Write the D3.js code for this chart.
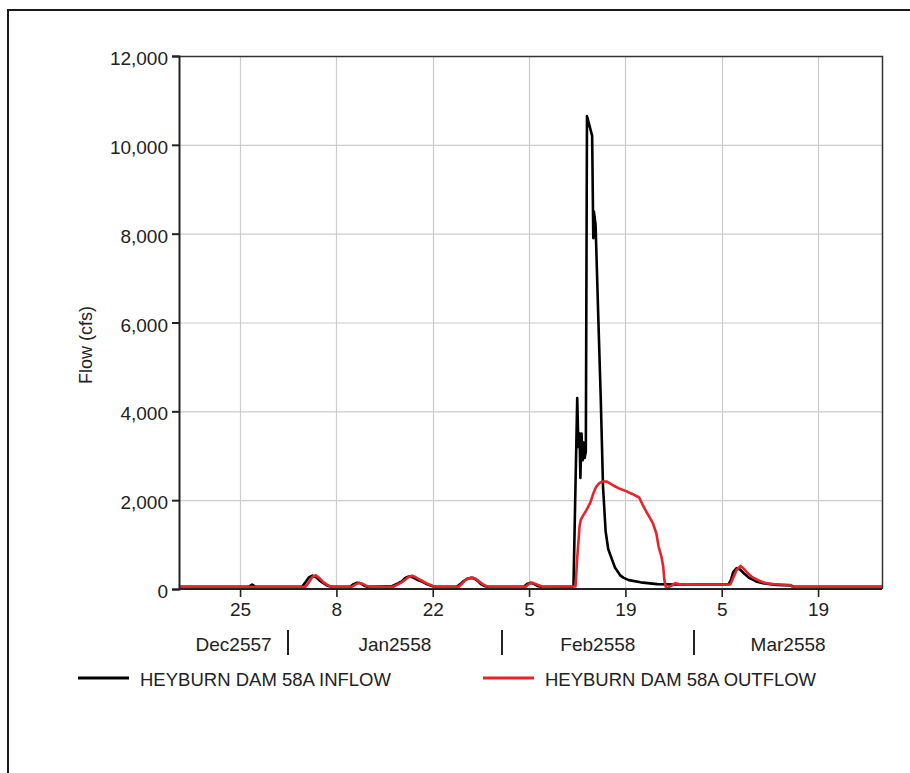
<!DOCTYPE html>
<html>
<head>
<meta charset="utf-8">
<script src="https://cdn.jsdelivr.net/npm/d3@7"></script>
<style>
  html, body { margin: 0; padding: 0; background: #fff; }
  svg { display: block; font-family: "Liberation Sans", Arial, sans-serif; }
</style>
</head>
<body>
<svg id="chart" width="910" height="773"></svg>
<script>
// Reservoir hydrograph: Heyburn Dam 58A inflow vs. outflow (cfs)
const inflowTimes = [
  "2014-12-15T00:00","2014-12-26T06:00","2014-12-26T18:00","2014-12-27T06:00",
  "2015-01-03T00:00","2015-01-03T12:00","2015-01-04T00:00","2015-01-04T12:00","2015-01-05T00:00","2015-01-05T12:00","2015-01-06T00:00","2015-01-06T12:00","2015-01-07T00:00","2015-01-07T12:00",
  "2015-01-10T00:00","2015-01-10T12:00","2015-01-11T00:00","2015-01-11T12:00","2015-01-12T00:00","2015-01-12T12:00",
  "2015-01-16T00:00","2015-01-17T00:00","2015-01-17T12:00","2015-01-18T00:00","2015-01-18T12:00","2015-01-19T00:00","2015-01-19T12:00","2015-01-20T00:00","2015-01-20T12:00","2015-01-21T00:00","2015-01-21T12:00","2015-01-22T00:00","2015-01-22T12:00",
  "2015-01-25T12:00","2015-01-26T00:00","2015-01-26T12:00","2015-01-27T00:00","2015-01-27T12:00","2015-01-28T00:00","2015-01-28T12:00","2015-01-29T00:00","2015-01-29T12:00","2015-01-30T00:00",
  "2015-02-04T06:00","2015-02-04T18:00","2015-02-05T06:00","2015-02-05T18:00","2015-02-06T06:00","2015-02-06T18:00",
  "2015-02-11T06:00","2015-02-11T11:00","2015-02-12T00:00","2015-02-12T04:00","2015-02-12T08:00","2015-02-12T11:00","2015-02-12T15:00","2015-02-12T19:00","2015-02-12T22:00","2015-02-13T02:00","2015-02-13T06:00",
  "2015-02-13T10:00","2015-02-13T18:00","2015-02-14T04:00","2015-02-14T08:00","2015-02-14T10:00","2015-02-14T16:00","2015-02-15T02:00","2015-02-15T10:00","2015-02-15T18:00",
  "2015-02-16T03:00","2015-02-16T12:00","2015-02-17T02:00","2015-02-17T12:00","2015-02-18T07:00","2015-02-18T18:00","2015-02-19T12:00","2015-02-21T05:00","2015-02-23T15:00","2015-02-26T00:00",
  "2015-03-05T12:00","2015-03-06T00:00","2015-03-06T08:00","2015-03-06T16:00","2015-03-07T04:00","2015-03-07T16:00","2015-03-08T06:00","2015-03-09T00:00","2015-03-10T00:00","2015-03-11T00:00","2015-03-12T00:00","2015-03-13T00:00","2015-03-15T00:00","2015-03-15T12:00","2015-03-29T00:00"
];
const inflowValues = [
  50,50,100,50,
  50,150,260,300,270,200,140,90,60,50,
  50,110,140,130,80,50,
  60,130,170,250,280,270,230,190,160,120,90,60,50,
  50,110,180,230,250,240,190,110,70,50,
  50,120,140,110,70,50,
  50,80,4300,3200,3500,2500,3500,2900,3300,2950,3100,
  10650,10450,10200,7900,8500,8200,6000,4300,2300,
  1300,900,650,480,300,250,200,150,110,100,
  100,110,200,380,470,440,350,250,170,130,110,90,80,50,50
];

const outflowTimes = [
  "2014-12-15T00:00",
  "2015-01-03T12:00","2015-01-04T00:00","2015-01-04T12:00","2015-01-05T00:00","2015-01-05T12:00","2015-01-06T00:00","2015-01-06T12:00","2015-01-07T00:00","2015-01-07T12:00",
  "2015-01-10T06:00","2015-01-10T18:00","2015-01-11T06:00","2015-01-11T18:00","2015-01-12T06:00","2015-01-12T18:00",
  "2015-01-16T06:00","2015-01-17T00:00","2015-01-17T12:00","2015-01-18T00:00","2015-01-18T12:00","2015-01-19T00:00","2015-01-19T12:00","2015-01-20T00:00","2015-01-20T12:00","2015-01-21T00:00","2015-01-21T12:00","2015-01-22T00:00","2015-01-22T12:00",
  "2015-01-25T18:00","2015-01-26T06:00","2015-01-26T18:00","2015-01-27T06:00","2015-01-27T18:00","2015-01-28T06:00","2015-01-28T18:00","2015-01-29T06:00","2015-01-29T18:00","2015-01-30T06:00",
  "2015-02-04T12:00","2015-02-05T00:00","2015-02-05T12:00","2015-02-06T00:00","2015-02-06T12:00","2015-02-07T00:00",
  "2015-02-11T18:00","2015-02-12T00:00","2015-02-12T08:00","2015-02-12T12:00","2015-02-12T20:00","2015-02-13T06:00","2015-02-13T14:00","2015-02-13T22:00","2015-02-14T08:00","2015-02-14T18:00",
  "2015-02-15T06:00","2015-02-15T18:00","2015-02-16T06:00","2015-02-16T18:00","2015-02-17T06:00","2015-02-18T00:00","2015-02-19T00:00","2015-02-20T00:00","2015-02-21T00:00","2015-02-21T12:00",
  "2015-02-22T00:00","2015-02-22T12:00","2015-02-23T00:00","2015-02-23T12:00","2015-02-23T20:00","2015-02-24T06:00","2015-02-24T12:00","2015-02-24T16:00","2015-02-24T22:00","2015-02-25T06:00",
  "2015-02-25T12:00","2015-02-25T20:00","2015-02-26T06:00","2015-02-26T18:00","2015-03-01T00:00",
  "2015-03-05T12:00","2015-03-06T06:00","2015-03-06T16:00","2015-03-07T04:00","2015-03-07T18:00","2015-03-08T06:00","2015-03-08T18:00","2015-03-09T12:00","2015-03-10T12:00","2015-03-11T12:00","2015-03-12T12:00","2015-03-15T00:00","2015-03-15T06:00","2015-03-29T00:00"
];
const outflowValues = [
  50,
  50,150,270,310,250,170,110,70,50,
  50,100,140,120,80,50,
  50,110,150,210,270,300,270,220,180,140,100,70,50,
  50,120,200,240,260,230,170,110,70,50,
  50,120,140,110,80,50,
  60,700,1400,1550,1650,1750,1850,1950,2150,2300,
  2390,2420,2420,2380,2330,2270,2210,2140,2060,1900,
  1750,1620,1480,1250,950,720,500,200,20,30,
  60,90,130,110,100,
  100,100,250,430,520,450,360,260,180,130,110,90,50,50
];

const seriesNames = ["HEYBURN DAM 58A INFLOW", "HEYBURN DAM 58A OUTFLOW"];
const seriesColors = ["#000000", "#e8232b"];

const yTicks = [0, 2000, 4000, 6000, 8000, 10000, 12000];
const xTickDates = ["2014-12-25","2015-01-08","2015-01-22","2015-02-05","2015-02-19","2015-03-05","2015-03-19"];
const monthStarts = ["2014-12-01","2015-01-01","2015-02-01","2015-03-01","2015-04-01"];
const monthLabels = ["Dec2557","Jan2558","Feb2558","Mar2558"];
const yLabel = "Flow (cfs)";

const parseT = d3.utcParse("%Y-%m-%dT%H:%M");
const parseD = d3.utcParse("%Y-%m-%d");

const inflow = inflowTimes.map((t, i) => ({ t: parseT(t), v: inflowValues[i] }));
const outflow = outflowTimes.map((t, i) => ({ t: parseT(t), v: outflowValues[i] }));

const plot = { left: 179, right: 882, top: 56, bottom: 589 };

const x = d3.scaleUtc()
  .domain([parseT("2014-12-16T03:00"), parseT("2015-03-28T07:00")])
  .range([plot.left, plot.right]);
const y = d3.scaleLinear().domain([0, 12000]).range([plot.bottom, plot.top]);

const svg = d3.select("#chart");

// outer frame
svg.append("rect")
  .attr("x", 8).attr("y", 10).attr("width", 920).attr("height", 800)
  .attr("fill", "none").attr("stroke", "#1a1a1a").attr("stroke-width", 2);

svg.append("defs").append("clipPath").attr("id", "plotclip")
  .append("rect")
  .attr("x", plot.left).attr("y", plot.top - 5)
  .attr("width", plot.right - plot.left).attr("height", plot.bottom - plot.top + 5);

// grid
const grid = svg.append("g");
grid.selectAll("line.h").data(yTicks.filter(d => d > 0 && d < 12000)).join("line")
  .attr("x1", plot.left).attr("x2", plot.right)
  .attr("y1", d => y(d) + 0.5).attr("y2", d => y(d) + 0.5)
  .attr("stroke", "#cccccc").attr("stroke-width", 1.2);
grid.selectAll("line.v").data(xTickDates.map(parseD)).join("line")
  .attr("x1", d => Math.round(x(d)) + 0.5).attr("x2", d => Math.round(x(d)) + 0.5)
  .attr("y1", plot.top).attr("y2", plot.bottom)
  .attr("stroke", "#cccccc").attr("stroke-width", 1.2);

// series
const line = d3.line().x(d => x(d.t)).y(d => y(d.v));
const lines = svg.append("g").attr("clip-path", "url(#plotclip)");
[inflow, outflow].forEach((data, i) => {
  lines.append("path").datum(data)
    .attr("d", line)
    .attr("fill", "none")
    .attr("stroke", seriesColors[i])
    .attr("stroke-width", 2.6)
    .attr("stroke-linejoin", "round")
    .attr("stroke-linecap", "round");
});

// plot frame (top and right edges)
svg.append("path")
  .attr("d", `M${plot.left},${plot.top + 0.5}H${plot.right + 0.5}V${plot.bottom}`)
  .attr("fill", "none").attr("stroke", "#333").attr("stroke-width", 1.5);

// y axis
const yAxis = d3.axisLeft(y).tickValues(yTicks).tickSize(7).tickPadding(4)
  .tickFormat(d3.format(","));
const gy = svg.append("g").attr("transform", `translate(${plot.left},0)`).call(yAxis);
gy.select(".domain").attr("stroke", "#222").attr("stroke-width", 2);
gy.selectAll(".tick line").attr("stroke", "#222").attr("stroke-width", 2);
gy.selectAll(".tick text").attr("font-size", 19).attr("fill", "#222")
  .attr("font-family", "'Liberation Sans', Arial, sans-serif").attr("dy", "0.45em");

// x axis
const xAxis = d3.axisBottom(x).tickValues(xTickDates.map(parseD)).tickSize(8).tickPadding(8)
  .tickFormat(d3.utcFormat("%-d"));
const gx = svg.append("g").attr("transform", `translate(0,${plot.bottom})`).call(xAxis);
gx.select(".domain").attr("stroke", "#222").attr("stroke-width", 2).attr("d", `M${plot.left},0H${plot.right}`);
gx.selectAll(".tick line").attr("stroke", "#222").attr("stroke-width", 1.6);
gx.selectAll(".tick text").attr("font-size", 19).attr("fill", "#222")
  .attr("font-family", "'Liberation Sans', Arial, sans-serif").attr("dy", "0.6em");

// month bands
const [d0, d1] = x.domain();
const months = monthLabels.map((lab, i) => {
  const a = parseD(monthStarts[i]), b = parseD(monthStarts[i + 1]);
  const lo = a < d0 ? d0 : a, hi = b > d1 ? d1 : b;
  return { lab, cx: (x(lo) + x(hi)) / 2, start: a };
});
svg.append("g").selectAll("text").data(months).join("text")
  .attr("x", d => d.cx).attr("y", 651)
  .attr("text-anchor", "middle").attr("font-size", 19).attr("fill", "#222")
  .text(d => d.lab);
svg.append("g").selectAll("line").data(months.filter(d => d.start > d0)).join("line")
  .attr("x1", d => Math.round(x(d.start))).attr("x2", d => Math.round(x(d.start)))
  .attr("y1", 630).attr("y2", 655)
  .attr("stroke", "#222").attr("stroke-width", 2);

// y label
svg.append("text")
  .attr("transform", "translate(92,345) rotate(-90)")
  .attr("text-anchor", "middle").attr("font-size", 18).attr("fill", "#222")
  .text(yLabel);

// legend
const legendX = [78, 483];
const legend = svg.append("g").selectAll("g").data(seriesNames).join("g")
  .attr("transform", (d, i) => `translate(${legendX[i]},678)`);
legend.append("line").attr("x1", 0).attr("x2", 51).attr("y1", 0).attr("y2", 0)
  .attr("stroke", (d, i) => seriesColors[i]).attr("stroke-width", 3);
legend.append("text").attr("x", 62).attr("y", 8)
  .attr("font-size", 19).attr("fill", "#222")
  .attr("textLength", (d, i) => i === 0 ? 251 : 271).attr("lengthAdjust", "spacingAndGlyphs")
  .text(d => d);
</script>
</body>
</html>
